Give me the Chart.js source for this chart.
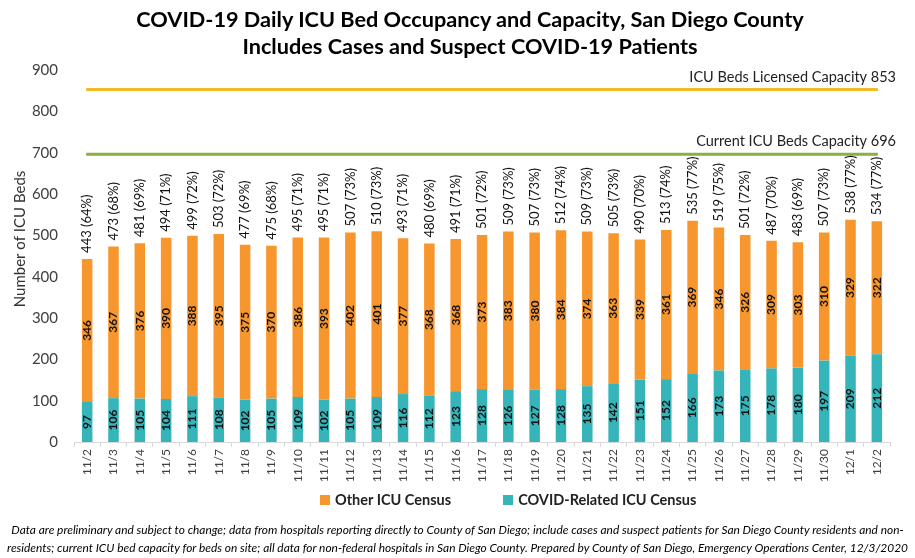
<!DOCTYPE html>
<html>
<head>
<meta charset="utf-8">
<script src="https://cdn.jsdelivr.net/npm/chart.js@4.4.1/dist/chart.umd.min.js"></script>
<style>
  body { margin: 0; background: #fff; font-family: Lato, 'Open Sans', sans-serif; }
  .wrap { position: relative; width: 915px; height: 558px; overflow: hidden; }
  #myChart { position: absolute; left: 0; top: 0; }
  .title {
    position: absolute; left: 0; top: 6px; width: 940px;
    text-align: center; font-weight: bold; font-size: 21.7px; line-height: 27px; color: #000;
  }
  #legend-container { position: absolute; left: 320px; top: 491px; }
  .note {
    position: absolute; left: 0; top: 521px; width: 915px;
    text-align: center; font-style: italic; font-size: 11.9px; line-height: 18px;
    color: #000; white-space: nowrap;
  }
</style>
</head>
<body>
<div class="wrap">
  <canvas id="myChart" width="915" height="558"></canvas>
  <div class="title">COVID-19 Daily ICU Bed Occupancy and Capacity, San Diego County<br>Includes Cases and Suspect COVID-19 Patients</div>
  <div id="legend-container"></div>
  <div class="note">Data are preliminary and subject to change; data from hospitals reporting directly to County of San Diego; include cases and suspect patients for San Diego County residents and non-<br>residents; current ICU bed capacity for beds on site; all data for non-federal hospitals in San Diego County. Prepared by County of San Diego, Emergency Operations Center, 12/3/2020</div>
</div>
<script>
const dates = ['11/2', '11/3', '11/4', '11/5', '11/6', '11/7', '11/8', '11/9', '11/10', '11/11',
  '11/12', '11/13', '11/14', '11/15', '11/16', '11/17', '11/18', '11/19', '11/20', '11/21',
  '11/22', '11/23', '11/24', '11/25', '11/26', '11/27', '11/28', '11/29', '11/30', '12/1', '12/2'];

const covidIcu = [97, 106, 105, 104, 111, 108, 102, 105, 109, 102, 105, 109, 116, 112, 123, 128,
  126, 127, 128, 135, 142, 151, 152, 166, 173, 175, 178, 180, 197, 209, 212];

const otherIcu = [346, 367, 376, 390, 388, 395, 375, 370, 386, 393, 402, 401, 377, 368, 368, 373,
  383, 380, 384, 374, 363, 339, 361, 369, 346, 326, 309, 303, 310, 329, 322];

// percent of current capacity, as printed above each bar
const pctOfCapacity = [64, 68, 69, 71, 72, 72, 69, 68, 71, 71, 73, 73, 71, 69, 71, 72,
  73, 73, 74, 73, 73, 70, 74, 77, 75, 72, 70, 69, 73, 77, 77];

const capacityValues = [853, 696];
const capacityLabels = ['ICU Beds Licensed Capacity 853', 'Current ICU Beds Capacity 696'];
const capacityColors = ['#F3B927', '#8DAF3D'];

const yAxisTitle = 'Number of ICU Beds';

const ctx = document.querySelector('#myChart').getContext('2d');


// capacity lines + their labels
const capacityPlugin = {
  id: 'capacity',
  beforeDatasetsDraw(chart) {
    const c = chart.ctx;
    const x = chart.scales.x;
    const y = chart.scales.y;
    capacityValues.forEach((v, i) => {
      const py = y.getPixelForValue(v);
      c.save();
      c.strokeStyle = capacityColors[i];
      c.lineWidth = 3;
      c.beginPath();
      c.moveTo(x.getPixelForValue(0) - 1, py);
      c.lineTo(x.getPixelForValue(dates.length - 1) + 1, py);
      c.stroke();
      c.font = '14.5px Lato';
      c.fillStyle = '#222';
      c.textAlign = 'right';
      c.textBaseline = 'middle';
      c.fillText(capacityLabels[i], chart.chartArea.right + 6, py - 12.5);
      c.restore();
    });
  }
};

// numbers written inside and above the bars
const barLabelPlugin = {
  id: 'barLabels',
  afterDatasetsDraw(chart) {
    const c = chart.ctx;
    c.save();
    c.fillStyle = '#111';
    chart.data.datasets.forEach((ds, i) => {
      chart.getDatasetMeta(i).data.forEach((bar, j) => {
        c.save();
        c.translate(bar.x, (bar.y + bar.base) / 2);
        c.rotate(-Math.PI / 2);
        c.font = 'bold 12px Lato';
        c.textAlign = 'center';
        c.textBaseline = 'middle';
        c.fillText(ds.data[j], 0, 0);
        c.restore();
      });
    });
    chart.getDatasetMeta(1).data.forEach((bar, j) => {
      c.save();
      c.translate(bar.x, bar.y - 6);
      c.rotate(-Math.PI / 2);
      c.font = '13px Lato';
      c.textAlign = 'left';
      c.textBaseline = 'middle';
      c.fillText((covidIcu[j] + otherIcu[j]) + ' (' + pctOfCapacity[j] + '%)', 0, 0);
      c.restore();
    });
    // y axis title, sits a bit above the middle like the original
    c.translate(20, 239);
    c.rotate(-Math.PI / 2);
    c.font = '15px Lato';
    c.fillStyle = '#333';
    c.textAlign = 'center';
    c.textBaseline = 'middle';
    c.fillText(yAxisTitle, 0, 0);
    c.restore();
  }
};

const htmlLegendPlugin = {
  id: 'htmlLegend',
  afterUpdate(chart, args, options) {
    const box = document.getElementById(options.containerID);
    while (box.firstChild) {
      box.firstChild.remove();
    }
    const ul = document.createElement('ul');
    ul.style.display = 'flex';
    ul.style.margin = 0;
    ul.style.padding = 0;
    ul.style.listStyle = 'none';

    // Other first, then COVID, same as the original
    const items = chart.options.plugins.legend.labels.generateLabels(chart).reverse();
    items.forEach((item, k) => {
      const li = document.createElement('li');
      li.style.display = 'flex';
      li.style.alignItems = 'center';
      li.style.marginRight = k === 0 ? '52px' : '0';

      const sq = document.createElement('span');
      sq.style.display = 'inline-block';
      sq.style.width = '10px';
      sq.style.height = '10px';
      sq.style.background = item.fillStyle;
      sq.style.marginRight = '5px';

      const p = document.createElement('p');
      p.style.margin = 0;
      p.style.fontWeight = 'bold';
      p.style.fontSize = '14.5px';
      p.style.color = '#222';
      p.appendChild(document.createTextNode(item.text));

      li.appendChild(sq);
      li.appendChild(p);
      ul.appendChild(li);
    });
    box.appendChild(ul);
  }
};


// eslint-disable-next-line no-undef
new Chart(ctx, {
  type: 'bar',
  data: {
    labels: dates,
    datasets: [{
      label: 'COVID-Related ICU Census',
      backgroundColor: '#35B4B9',
      data: covidIcu,
    },
    {
      label: 'Other ICU Census',
      backgroundColor: '#F7962D',
      data: otherIcu,
    }]
  },
  options: {
    responsive: false,
    animation: false,
    barPercentage: 0.4,
    categoryPercentage: 1,
    layout: {
      padding: { top: 70, right: 25, bottom: 74, left: 0 }
    },
    scales: {
      x: {
        stacked: true,
        grid: { display: true, drawOnChartArea: false, tickLength: 5, color: '#d9d9d9', offset: true },
        border: { color: '#d9d9d9' },
        ticks: {
          autoSkip: false, minRotation: 90, maxRotation: 90, padding: 2,
          color: '#404040', font: { family: 'Lato', size: 12 }
        },
        afterFit(scale) { scale.height = 42; }
      },
      y: {
        stacked: true,
        min: 0,
        max: 900,
        grid: { display: false, drawTicks: false },
        border: { display: false },
        ticks: {
          stepSize: 100, padding: 16,
          color: '#404040', font: { family: 'Lato', size: 15 }
        },
        afterFit(scale) { scale.width = 74; }
      }
    },
    plugins: {
      htmlLegend: {
        containerID: 'legend-container',
      },
      legend: { display: false },
      tooltip: { enabled: false }
    }
  },
  plugins: [capacityPlugin, barLabelPlugin, htmlLegendPlugin],
});
</script>
</body>
</html>
